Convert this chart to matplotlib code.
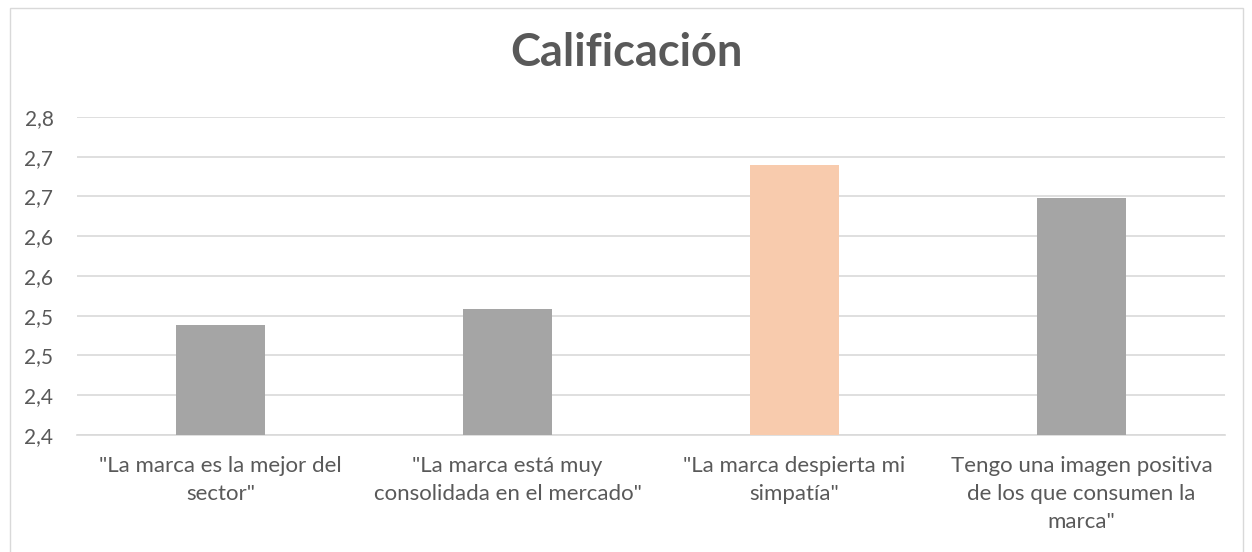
import matplotlib
matplotlib.use("Agg")
import matplotlib.pyplot as plt
from matplotlib.ticker import FixedLocator, FuncFormatter
from matplotlib.patches import Rectangle

categories = ['"La marca es la mejor del\nsector"',
              '"La marca está muy\nconsolidada en el mercado"',
              '"La marca despierta mi\nsimpatía"',
              'Tengo una imagen positiva\nde los que consumen la\nmarca"']
values = [2.488, 2.508, 2.689, 2.648]
colors = ['#A5A5A5', '#A5A5A5', '#F8CBAD', '#A5A5A5']
yticks = [2.35, 2.40, 2.45, 2.50, 2.55, 2.60, 2.65, 2.70, 2.75]

plt.rcParams['font.family'] = ['Lato', 'DejaVu Sans']
fig = plt.figure(figsize=(12.52, 5.52), dpi=100)
fig.patches.append(Rectangle((10/1252, -0.01), 1233/1252, 1 - 8/552 + 0.01,
                             transform=fig.transFigure, fill=False,
                             edgecolor='#D9D9D9', linewidth=1))
ax = fig.add_axes([77/1252, 1 - 435/552, (1225 - 77)/1252, (435 - 117)/552])
x = list(range(len(categories)))
ax.bar(x, values, width=0.31, color=colors, zorder=3)
ax.set_xlim(-0.5, len(categories) - 0.5)
ax.set_ylim(2.35, 2.75)
ax.yaxis.set_major_locator(FixedLocator(yticks))
ax.yaxis.set_major_formatter(FuncFormatter(lambda v, p: f"{v + 1e-9:.1f}".replace('.', ',')))
ax.grid(axis='y', color='#D9D9D9', linewidth=1.2, zorder=0)
for s in ['top', 'right', 'left']:
    ax.spines[s].set_visible(False)
ax.spines['bottom'].set_color('#D9D9D9')
ax.spines['bottom'].set_linewidth(1.2)
ax.set_xticks(x)
ax.set_xticklabels(categories, fontsize=16, color='#595959', linespacing=1.5)
ax.tick_params(axis='x', length=0, pad=15)
ax.tick_params(axis='y', length=0, labelsize=15, labelcolor='#595959', pad=17)
fig.text(0.5, 1 - 53/552, 'Calificación', ha='center', va='center',
         fontsize=32.5, fontweight='bold', color='#595959')
fig.savefig('out.png', dpi=100)
